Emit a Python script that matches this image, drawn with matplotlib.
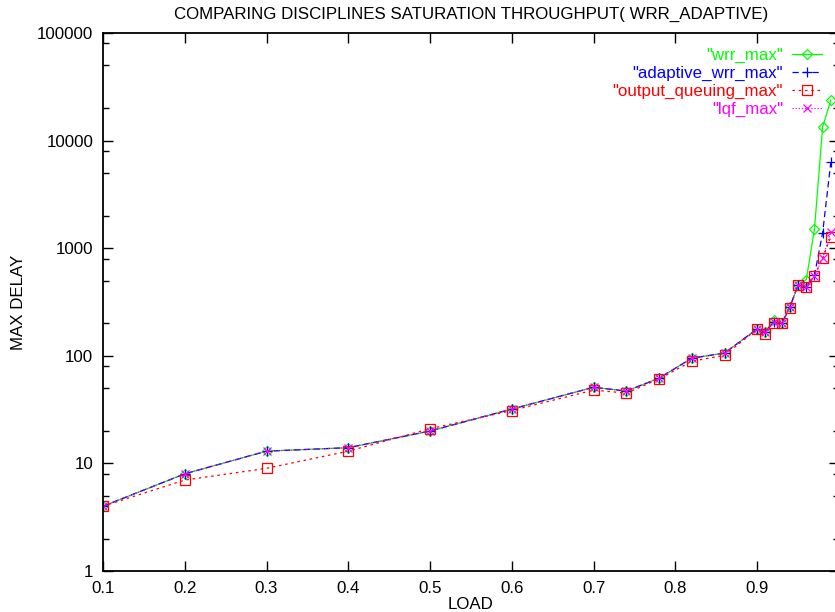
import matplotlib
matplotlib.use("Agg")
import matplotlib.pyplot as plt
from matplotlib.ticker import LogLocator, FuncFormatter, FixedLocator

plt.rcParams['font.family'] = ['Liberation Sans', 'DejaVu Sans']

# load points and max delay per discipline
load = [0.1, 0.2, 0.3, 0.4, 0.5, 0.6, 0.7, 0.74, 0.78, 0.82, 0.86,
        0.9, 0.91, 0.92, 0.93, 0.94, 0.95, 0.96, 0.97, 0.98, 0.99]
wrr_max = [4, 8, 13, 14, 20, 32, 51, 47, 62, 95, 106,
           178, 168, 215, 200, 285, 455, 510, 1500, 13400, 23800]
adaptive_wrr_max = [4, 8, 13, 14, 20, 32, 51, 47, 62, 95, 106,
                    178, 168, 205, 200, 285, 455, 440, 560, 1390, 6300]
output_queuing_max = [4, 7, 9, 13, 21, 31, 48, 45, 61, 89, 101,
                      177, 160, 202, 200, 280, 455, 440, 552, 810, 1270]
lqf_max = [4, 8, 13, 14, 20, 32, 51, 47, 62, 95, 106,
           178, 168, 205, 200, 285, 455, 440, 552, 810, 1400]

FS = 12.2

fig = plt.figure(figsize=(8.35, 6.12), dpi=100)
ax = fig.add_axes([103 / 835, 41 / 612, 736 / 835, 538 / 612])

ax.plot(load, wrr_max, color='#00ff00', lw=0.9, ls='-', marker='D',
        ms=5, mfc='none', mew=0.9, label='"wrr_max"')
ax.plot(load, adaptive_wrr_max, color='#0000ff', lw=0.9, ls=(0, (5, 3)),
        marker='+', ms=7, mew=0.9, label='"adaptive_wrr_max"')
ax.plot(load, output_queuing_max, color='#ff0000', lw=0.9, ls=(0, (2, 3)),
        marker='s', ms=7, mfc='none', mew=0.9, label='"output_queuing_max"')
ax.plot(load, lqf_max, color='#ff00ff', lw=0.9, ls=(0, (1, 1.5)),
        marker='x', ms=6, mew=0.9, label='"lqf_max"')

ax.set_yscale('log')
ax.set_xlim(0.1, 1.0)
ax.set_ylim(1, 100000)
ax.xaxis.set_major_locator(FixedLocator([0.1, 0.2, 0.3, 0.4, 0.5, 0.6, 0.7, 0.8, 0.9, 1.0]))
ax.xaxis.set_major_formatter(FuncFormatter(lambda v, p: '%g' % v))
ax.yaxis.set_major_locator(LogLocator(base=10, numticks=10))
ax.yaxis.set_minor_locator(LogLocator(base=10, subs=[2, 5, 8], numticks=10))
ax.yaxis.set_major_formatter(FuncFormatter(lambda v, p: '%d' % round(v)))
ax.yaxis.set_minor_formatter(FuncFormatter(lambda v, p: ''))

ax.tick_params(which='both', direction='in', top=True, right=True,
               labelsize=FS, width=1.0, color='black')
ax.tick_params(which='major', length=7, pad=7)
ax.tick_params(which='minor', length=4)
for s in ax.spines.values():
    s.set_linewidth(1.3)

ax.set_title('COMPARING DISCIPLINES SATURATION THROUGHPUT( WRR_ADAPTIVE)',
             fontsize=FS, pad=10)
ax.set_xlabel('LOAD', fontsize=FS, labelpad=1)
ax.set_ylabel('MAX DELAY', fontsize=FS, labelpad=8)

leg = ax.legend(loc='upper right', bbox_to_anchor=(0.977, 0.972),
                frameon=False, markerfirst=False, fontsize=FS,
                handlelength=1.8, handletextpad=0.5, labelspacing=0.16,
                borderpad=0, borderaxespad=0)
for txt, ln in zip(leg.get_texts(), leg.get_lines()):
    txt.set_color(ln.get_color())

fig.savefig('out.png', dpi=100)
